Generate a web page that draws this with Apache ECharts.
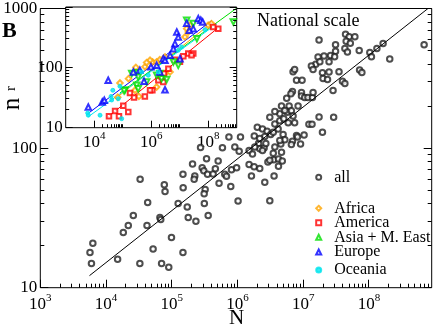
<!DOCTYPE html>
<html>
<head>
<meta charset="utf-8">
<script src="https://cdn.jsdelivr.net/npm/echarts@6/dist/echarts.min.js"></script>
<style>
  html, body { margin: 0; padding: 0; background: #fff; }
  #chart { width: 436px; height: 327px; }
</style>
</head>
<body>
<div id="chart"></div>
<script>
// main panel, all nations: [N, n_r]
const allPoints = [
  [5.7e3, 17.9], [6.3e3, 20.8], [6.0e3, 14.9], [1.5e4, 16.0], [1.83e4, 24.9], [2.18e4, 27.9],
  [2.6e4, 32.9], [3.3e4, 59.7], [3.27e4, 14.9], [4.2e4, 27.9], [4.3e4, 40.7], [5.2e4, 18.9],
  [6.6e4, 31.8], [6.8e4, 30.8], [7.0e4, 14.9], [7.7e4, 54.7], [7.9e4, 48.8], [9.0e4, 14.0],
  [9.9e4, 22.9], [1.25e5, 40.1], [1.48e5, 64.9], [1.49e5, 52.1], [1.48e5, 17.9], [1.72e5, 37.8],
  [1.78e5, 31.8], [2.07e5, 76.8], [2.24e5, 63.1], [2.19e5, 59.7], [2.33e5, 29.9],
  [2.9e5, 72.4], [3.07e5, 68.9], [3.38e5, 84], [3.5e5, 64.9], [3.22e5, 50.5], [3.11e5, 47.1],
  [3.13e5, 40.1], [3.58e5, 32.9], [4.26e5, 65.2], [4.6e5, 71], [5.08e5, 80.7], [5.24e5, 56],
  [6.4e5, 64.9], [6.8e5, 62.8], [8.1e5, 70], [9.7e5, 72.4], [7.9e5, 53], [1.02e6, 41.8],
  [2.74e5, 101], [5.9e5, 100.5], [7.4e5, 120], [1.11e6, 120], [9.1e5, 102], [1.06e6, 95],
  [1.5e6, 96], [1.69e6, 90.8], [1.5e6, 76.2], [1.79e6, 73.6], [2.18e6, 71.3], [1.63e6, 63.1],
  [2.0e6, 141], [2.4e6, 137], [2.82e6, 132], [2.6e6, 121], [1.8e6, 122], [2.09e6, 108],
  [2.18e6, 99], [2.54e6, 100], [2.7e6, 108], [2.9e6, 79.6], [3.5e6, 92], [3.57e6, 82.6],
  [4.2e6, 83.6], [4.56e6, 107], [3.2e6, 125], [3.5e6, 130], [4.15e6, 137], [3.7e6, 149],
  [4.4e6, 157], [4.4e6, 176], [5.06e6, 162], [3.1e6, 166], [4.94e6, 125], [5.25e6, 115],
  [5.7e6, 181], [2.6e6, 57], [3.1e6, 42], [1.83e6, 102], [2.4e6, 96], [4.8e6, 81], [4.2e6, 74],
  [2.18e6, 117], [4.4e6, 113.5], [3.7e6, 102], [3.1e6, 81.7], [4.67e6, 93.5], [3.6e6, 63],
  [4.67e6, 200], [6.1e6, 200], [8.35e6, 200], [5.25e6, 186], [3.7e6, 183], [6.6e6, 185],
  [7.0e6, 170], [7.4e6, 152], [5.9e6, 152], [5.6e6, 228],
  [1.74e7, 594], [4.4e7, 655], [5.0e7, 627], [6.1e7, 627], [4.5e7, 582], [5.2e7, 564],
  [3.1e7, 550], [4.3e7, 517], [4.7e7, 488], [7.1e7, 501], [3.1e7, 495], [2.6e7, 461],
  [3.0e7, 451], [2.07e7, 456], [1.68e7, 449], [1.55e7, 398], [1.33e7, 388], [1.79e7, 416],
  [1.41e7, 366], [2.47e7, 416], [7.0e6, 352], [7.4e6, 366], [1.96e7, 347], [2.47e7, 351],
  [7.9e6, 306], [9.6e6, 306], [2.0e7, 315], [2.34e7, 310], [3.5e7, 352], [3.95e7, 301],
  [4.3e7, 290], [2.84e7, 259], [6.85e6, 254], [6.5e6, 245], [9.4e6, 250], [9.4e6, 236],
  [1.05e7, 230], [1.18e7, 230], [1.38e7, 230], [1.41e7, 250], [1.74e7, 167], [2.9e7, 166],
  [1.22e7, 148], [1.36e7, 148], [1.64e8, 561], [1.32e8, 517], [1.03e8, 484], [1.09e8, 451],
  [2.07e8, 434], [6.9e8, 550], [7.2e7, 362], [7.8e7, 348], [1.96e7, 130], [1.03e7, 124],
  [7.9e6, 123], [8.2e6, 120], [9.1e6, 107], [6.85e6, 112], [6.6e6, 106]
];
const allFit = [[5.6e3, 12.2], [7.9e8, 1000]];

// inset, by continent
const africaPoints = [
  [8.0e4, 55], [1.6e5, 65], [2.9e5, 100], [6.05e5, 102], [1.12e6, 123], [6.7e4, 32], [3.7e5, 33],
  [2.7e5, 41.7], [1.55e6, 47.3], [2.0e6, 134], [3.05e6, 149], [1.76e7, 438], [2.0e7, 386],
  [1.53e7, 319], [2.3e7, 499], [1.0e8, 499], [1.3e8, 531], [9.1e5, 131], [1.55e6, 123],
  [4.6e6, 84], [3.05e6, 79], [6.9e5, 120]
];
const americaPoints = [
  [3.3e4, 15.5], [5.4e4, 18.9], [7.4e4, 15.5], [1.05e5, 23.2], [1.57e5, 18.2], [1.8e5, 37.6],
  [2.5e5, 31.6], [6.0e5, 33], [1.1e6, 41.7], [1.78e6, 61], [2.34e6, 69], [2.66e6, 57], [2.8e6, 79],
  [2.26e8, 438], [1.5e8, 468], [3.0e7, 169], [2.0e7, 169], [1.34e7, 153], [6.8e6, 134],
  [4.0e6, 95], [9.1e5, 41.7], [1.02e7, 124], [2.6e7, 159]
];
const asiaPoints = [
  [2.07e5, 79], [3.4e5, 81], [3.5e5, 69], [3.1e5, 50.5], [3.5e5, 44], [6.9e5, 57], [1.55e6, 74],
  [2.0e6, 79], [2.3e6, 65], [1.76e7, 604], [7.6e8, 566], [3.0e7, 531], [4.0e7, 299], [6.0e6, 123],
  [8.9e6, 108], [1.2e5, 42], [3.5e6, 63], [1.12e5, 41]
];
const europePoints = [
  [6.2e3, 22], [3.1e4, 61], [1.92e4, 26.7], [2.26e4, 28.5], [5.6e5, 59], [2.36e5, 84], [4.0e5, 90],
  [9.8e5, 102], [1.56e6, 108], [2.66e6, 139], [3.05e6, 42.6], [7.9e6, 386], [8.9e6, 319],
  [6.8e6, 247], [6.0e6, 204], [4.6e6, 158], [3.05e6, 131], [4.5e7, 643], [5.5e7, 604],
  [6.4e7, 566], [3.0e7, 438], [2.17e7, 412], [2.0e6, 84], [1.02e7, 139], [1.76e7, 537]
];
const oceaniaPoints = [
  [5.9e3, 17.5], [6.2e3, 16.1], [1.6e4, 16.1], [4.5e4, 41.7], [3.9e4, 33], [7.0e4, 30.3],
  [8.0e4, 48.6], [9.2e4, 14.1], [4.6e5, 84], [7.9e5, 74], [1.78e6, 84], [1.17e7, 218],
  [7.7e7, 421], [8.9e6, 192], [4.1e4, 28.8]
];
const africaFit = [[5.4e4, 30], [1.48e8, 566]];
const americaFit = [[3.1e4, 15.2], [2.15e8, 445]];
const asiaFit = [[8e4, 37.6], [9.5e8, 940]];
const europeFit = [[6.2e3, 17.3], [1.33e8, 594]];
const oceaniaFit = [[6.2e3, 15.2], [2.0e8, 525]];

// axis ranges and ticks
const mainXRange = [1e3, 9e8];
const mainYRange = [10, 1000];
const insetXRange = [1e3, 1e9];
const insetYRange = [10, 1000];
const mainXMajor = [1e3, 1e4, 1e5, 1e6, 1e7, 1e8];
const mainYMajor = [10, 100, 1000];
const insetXMajor = [1e4, 1e6, 1e8];
const insetYMajor = [10, 100, 1000];
const insetYLabels = [10, 100];

function minorTicks(bases, from, to) {
  const out = [];
  bases.forEach(b => { for (let k = from; k <= to; k++) out.push(b * k); });
  return out;
}
const mainXMinor = minorTicks(mainXMajor, 2, 9).filter(v => v < mainXRange[1]);
const mainYMinor = minorTicks([10, 100], 2, 9);
const insetXMinor = minorTicks(insetXMajor, 2, 10).filter(v => v < insetXRange[1]);
const insetYMinor = minorTicks([10, 100], 2, 9);

const serif = 'Liberation Serif';

function logAxis(grid, range, labels, labelOpt) {
  return {
    type: 'log', logBase: 10, gridIndex: grid, min: range[0], max: range[1],
    axisLine: { show: false }, splitLine: { show: false }, axisTick: { show: false },
    axisLabel: labels ? Object.assign({ show: true, customValues: labels }, labelOpt) : { show: false }
  };
}

function powLabel(value) {
  return '{b|10}{s|' + Math.round(Math.log10(value)) + '}';
}
const powRich = {
  b: { fontFamily: serif, fontSize: 17, color: '#000', verticalAlign: 'bottom', lineHeight: 20 },
  s: { fontFamily: serif, fontSize: 11, color: '#000', verticalAlign: 'top', lineHeight: 20 }
};
const plainLabel = v => String(v);
const yLabelOpt = { formatter: plainLabel, fontFamily: serif, fontSize: 17, color: '#000', margin: 3 };

// tick marks drawn as short strokes placed through the axes' own coordinate mapping
function tickMarks(xi, yi, points, dx, dy) {
  return {
    type: 'custom', xAxisIndex: xi, yAxisIndex: yi, data: points,
    clip: false, silent: true, z: 6,
    renderItem: (params, api) => {
      const p = api.coord([api.value(0), api.value(1)]);
      let x = p[0], y = p[1];
      if (dx === 0) x = Math.round(x - 0.5) + 0.5;
      if (dy === 0) y = Math.round(y - 0.5) + 0.5;
      return {
        type: 'line',
        shape: { x1: x, y1: y, x2: x + dx, y2: y + dy },
        style: { stroke: '#000', lineWidth: 1 }
      };
    }
  };
}
const onX = (ticks, yVal) => ticks.map(v => [v, yVal]);
const onY = (ticks, xVal) => ticks.map(v => [xVal, v]);

const chart = echarts.init(document.getElementById('chart'));

const legendText = { fontFamily: serif, fontSize: 16, color: '#000', lineHeight: 16, padding: [0, 0, 0, 8] };
function legendFor(name, top) {
  return {
    data: [name], left: 315.2, top: top, orient: 'vertical',
    itemWidth: 5, itemHeight: 5, selectedMode: false,
    textStyle: legendText, padding: 0
  };
}

function insetScatter(name, data, symbol, color, size, extra) {
  return Object.assign({
    name: name, type: 'scatter', xAxisIndex: 1, yAxisIndex: 1,
    symbol: symbol, symbolSize: size, data: data,
    itemStyle: { color: color, borderColor: color, borderWidth: 1 }, z: 5
  }, extra || {});
}
function fitLine(data, color, xi, yi) {
  return {
    type: 'line', xAxisIndex: xi, yAxisIndex: yi, data: data, symbol: 'none', silent: true,
    lineStyle: { color: color, width: 1 }, z: 4
  };
}

chart.setOption({
  animation: false,
  grid: [
    { left: 40.3, top: 7, right: 4.3, bottom: 39.3, show: true, borderColor: '#000', borderWidth: 1 },
    { left: 65.7, top: 7, width: 171, height: 120.7, show: true, backgroundColor: '#fff', borderColor: '#000', borderWidth: 1, z: 3 }
  ],
  xAxis: [
    logAxis(0, mainXRange, mainXMajor, { formatter: powLabel, rich: powRich, margin: 5 }),
    logAxis(1, insetXRange, insetXMajor, { formatter: powLabel, rich: powRich, margin: 3 })
  ],
  yAxis: [
    logAxis(0, mainYRange, mainYMajor, yLabelOpt),
    logAxis(1, insetYRange, insetYLabels, yLabelOpt)
  ],
  legend: [
    legendFor('all', 169.3),
    legendFor('Africa', 200.3),
    legendFor('America', 214.7),
    legendFor('Asia + M. East', 229.3),
    legendFor('Europe', 244),
    legendFor('Oceania', 262)
  ],
  series: [
    {
      name: 'all', type: 'scatter', xAxisIndex: 0, yAxisIndex: 0,
      symbol: 'emptyCircle', symbolSize: 5.5, data: allPoints,
      itemStyle: { color: '#222', borderColor: '#222', borderWidth: 0.8 }
    },
    fitLine(allFit, '#000', 0, 0),
    fitLine(africaFit, '#ffa500', 1, 1),
    fitLine(americaFit, '#ff0000', 1, 1),
    fitLine(asiaFit, '#00e000', 1, 1),
    fitLine(europeFit, '#0000ff', 1, 1),
    fitLine(oceaniaFit, '#00e5ee', 1, 1),
    insetScatter('Africa', africaPoints, 'emptyDiamond', '#ffa500', 5.5, { itemStyle: { color: '#ffa500', borderColor: '#ffa500', borderWidth: 0.9 } }),
    insetScatter('America', americaPoints, 'emptyRect', '#ff0000', 4.5, { itemStyle: { color: '#ff0000', borderColor: '#ff0000', borderWidth: 0.9 } }),
    insetScatter('Asia + M. East', asiaPoints, 'emptyTriangle', '#00e000', 5.5, { symbolRotate: 180, itemStyle: { color: '#00e000', borderColor: '#00e000', borderWidth: 0.9 } }),
    insetScatter('Europe', europePoints, 'emptyTriangle', '#0000ff', 5.5, { itemStyle: { color: '#0000ff', borderColor: '#0000ff', borderWidth: 0.9 } }),
    insetScatter('Oceania', oceaniaPoints, 'circle', '#00e5ee', 4),
    // main panel ticks
    tickMarks(0, 0, onX(mainXMajor, mainYRange[0]), 0, -8),
    tickMarks(0, 0, onX(mainXMinor, mainYRange[0]), 0, -4),
    tickMarks(0, 0, onY(mainYMajor, mainXRange[0]), 8, 0),
    tickMarks(0, 0, onY(mainYMinor, mainXRange[0]), 4, 0),
    tickMarks(0, 0, onY(mainYMajor, mainXRange[1]), -8, 0),
    tickMarks(0, 0, onY(mainYMinor, mainXRange[1]), -4, 0),
    // inset ticks
    tickMarks(1, 1, onX(insetXMajor, insetYRange[0]), 0, -7),
    tickMarks(1, 1, onX(insetXMinor, insetYRange[0]), 0, -3.5),
    tickMarks(1, 1, onY(insetYMajor, insetXRange[0]), 7, 0),
    tickMarks(1, 1, onY(insetYMinor, insetXRange[0]), 3.5, 0),
    tickMarks(1, 1, onY(insetYMajor, insetXRange[1]), -7, 0),
    tickMarks(1, 1, onY(insetYMinor, insetXRange[1]), -3.5, 0)
  ],
  graphic: [
    { type: 'text', left: 2, top: 20, style: { text: 'B', font: 'bold 22px "Liberation Serif"', fill: '#000' } },
    { type: 'text', left: 257, top: 12, style: { text: 'National scale', font: '18px "Liberation Serif"', fill: '#000' } },
    { type: 'text', left: 229, top: 308, style: { text: 'N', font: '21px "Liberation Serif"', fill: '#000' } },
    {
      type: 'text', x: 12, y: 104, rotation: Math.PI / 2,
      style: { text: 'n', font: '25px "Liberation Serif"', fill: '#000', align: 'center', verticalAlign: 'middle' }
    },
    {
      type: 'text', x: 11, y: 88.5, rotation: Math.PI / 2,
      style: { text: 'r', font: '15px "Liberation Serif"', fill: '#000', align: 'center', verticalAlign: 'middle' }
    }
  ]
});
</script>
</body>
</html>
